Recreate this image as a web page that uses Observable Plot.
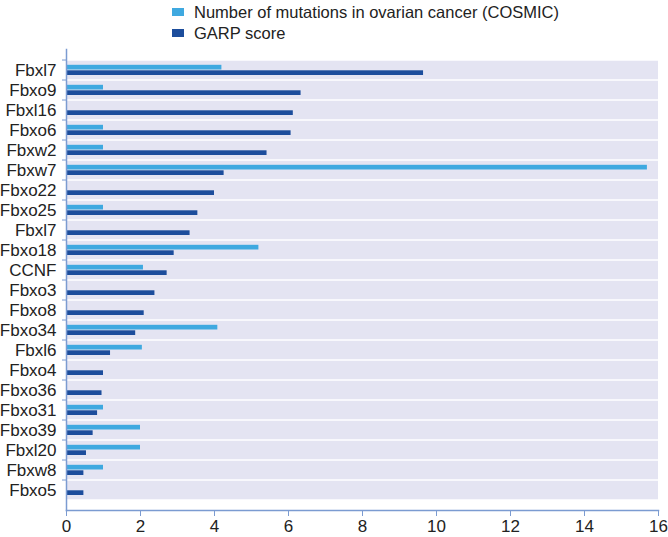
<!DOCTYPE html>
<html><head><meta charset="utf-8">
<script src="https://cdn.jsdelivr.net/npm/d3@7"></script>
<script src="https://cdn.jsdelivr.net/npm/@observablehq/plot@0.6"></script>
<style>
body{margin:0;background:#fff;font-family:"Liberation Sans",Arial,sans-serif;}
#legend{position:relative;height:44px;}
.item{position:absolute;left:172px;display:flex;align-items:center;font-size:16.5px;color:#222;line-height:18px;}
.sw{width:12px;height:8px;margin-right:10px;}
</style></head><body>
<div id="legend"></div>
<div id="chart"></div>
<script>
const genes = ["Fbxl7","Fbxo9","Fbxl16","Fbxo6","Fbxw2","Fbxw7","Fbxo22","Fbxo25","Fbxl7","Fbxo18","CCNF","Fbxo3","Fbxo8","Fbxo34","Fbxl6","Fbxo4","Fbxo36","Fbxo31","Fbxo39","Fbxl20","Fbxw8","Fbxo5"];
const cosmic = [4.2,1,0,1,1,15.7,0,1,0,5.2,2.08,0,0,4.09,2.05,0,0,1,2,2,1,0];
const garp = [9.65,6.34,6.13,6.07,5.42,4.26,4.0,3.55,3.34,2.91,2.72,2.39,2.1,1.87,1.19,1.0,0.96,0.84,0.72,0.54,0.47,0.47];
const seriesNames = ["Number of mutations in ovarian cancer (COSMIC)","GARP score"];
const xTicks = [0,2,4,6,8,10,12,14,16];
const colors = ["#3fa9e0","#1c4d9c"];
const axisColor = "#7b9bd1";
const bg = "#e4e4f2";

const legend = document.getElementById("legend");
seriesNames.forEach((name, k) => {
  const it = document.createElement("div");
  it.className = "item";
  it.style.top = (k === 0 ? 3 : 24) + "px";
  const sw = document.createElement("span");
  sw.className = "sw"; sw.style.background = colors[k];
  const tx = document.createElement("span");
  tx.textContent = name;
  it.appendChild(sw); it.appendChild(tx);
  legend.appendChild(it);
});

const H = 493, MT = 5, MB = 27;
const step = (H - MT - MB) / genes.length;
const idx = genes.map((g, i) => i);
const rows = genes.map((g, i) => ({i, gene: g, cosmic: cosmic[i], garp: garp[i]}));

const chart = Plot.plot({
  width: 668, height: H, marginTop: MT, marginBottom: MB, marginLeft: 66, marginRight: 10,
  style: {fontFamily: '"Liberation Sans", Arial, sans-serif', fontSize: "17px", color: "#222", background: "#fff"},
  x: {domain: [0, 16], label: null},
  y: {domain: idx, padding: 0, label: null},
  marks: [
    Plot.barX(idx, {y: d => d, x1: 0, x2: 16, fill: bg, insetTop: 0.75, insetBottom: 0.75}),
    Plot.barX(rows, {y: "i", x: "cosmic", fill: colors[0], insetTop: 4.8, insetBottom: 10.5}),
    Plot.barX(rows, {y: "i", x: "garp", fill: colors[1], insetTop: 10.3, insetBottom: 5}),
    Plot.axisY({tickSize: 0, tickPadding: 10, tickFormat: i => genes[i], fill: "#222"}),
    Plot.axisY({tickSize: 4, tickFormat: () => "", stroke: axisColor, dy: -step / 2}),
    Plot.frame({anchor: "left", stroke: axisColor, strokeWidth: 1.5}),
    Plot.frame({anchor: "bottom", stroke: axisColor, strokeWidth: 1.5}),
    Plot.axisX({ticks: xTicks, tickSize: 6, tickPadding: 3, stroke: axisColor, fill: "#222", tickFormat: d => String(d)})
  ]
});
document.getElementById("chart").appendChild(chart);
</script>
</body></html>
